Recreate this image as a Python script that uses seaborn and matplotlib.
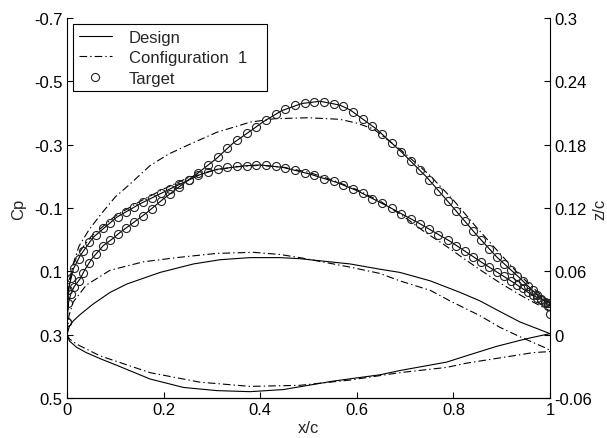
import seaborn as sns
import matplotlib.pyplot as plt

# Cp - Design (duas curvas: A = pico mais forte, B = pico mais fraco)
xa_design = [0.0, 0.003, 0.008, 0.015, 0.027, 0.037, 0.051, 0.075, 0.096, 0.11, 0.134, 0.165, 0.199,
             0.235, 0.275, 0.31, 0.344, 0.386, 0.406, 0.444, 0.486, 0.524, 0.565, 0.586, 0.641, 0.693,
             0.745, 0.793, 0.848, 0.89, 0.938, 0.972, 1.0]
cpa_design = [0.26, 0.20, 0.17, 0.148, 0.124, 0.095, 0.061, 0.019, -0.005, -0.023, -0.05, -0.085, -0.128,
              -0.17, -0.215, -0.257, -0.305, -0.35, -0.372, -0.407, -0.43, -0.437, -0.425, -0.41, -0.349, -0.276,
              -0.197, -0.113, -0.015, 0.055, 0.122, 0.172, 0.21]
xb_design = [0.0, 0.003, 0.013, 0.027, 0.054, 0.103, 0.151, 0.213, 0.275, 0.31, 0.365, 0.4, 0.448, 0.503,
             0.558, 0.6, 0.662, 0.731, 0.793, 0.862, 0.924, 0.965, 1.0]
cpb_design = [0.26, 0.156, 0.093, 0.051, -0.007, -0.071, -0.113, -0.16, -0.205, -0.222, -0.233, -0.236, -0.228,
              -0.207, -0.181, -0.155, -0.107, -0.05, 0.005, 0.075, 0.135, 0.177, 0.2]

# Cp - Configuration 1
xa_conf = [0.0, 0.004, 0.012, 0.025, 0.045, 0.07, 0.1, 0.13, 0.172, 0.21, 0.248, 0.31, 0.379, 0.43, 0.5,
           0.565, 0.6, 0.634, 0.69, 0.75, 0.8, 0.85, 0.9, 0.93, 0.96, 0.985, 1.0]
cpa_conf = [0.27, 0.15, 0.08, 0.02, -0.03, -0.08, -0.135, -0.175, -0.234, -0.27, -0.297, -0.339, -0.371, -0.382,
            -0.385, -0.38, -0.368, -0.35, -0.285, -0.205, -0.125, -0.035, 0.05, 0.1, 0.145, 0.18, 0.2]
xb_conf = [0.0, 0.004, 0.015, 0.03, 0.05, 0.1, 0.15, 0.2, 0.25, 0.3, 0.35, 0.4, 0.45, 0.5, 0.55, 0.6, 0.65,
           0.7, 0.74, 0.78, 0.82, 0.86, 0.9, 0.95, 1.0]
cpb_conf = [0.27, 0.13, 0.07, 0.03, -0.01, -0.075, -0.12, -0.16, -0.195, -0.218, -0.23, -0.235, -0.228, -0.213,
            -0.188, -0.158, -0.12, -0.07, -0.025, 0.015, 0.058, 0.1, 0.14, 0.185, 0.225]

# Cp - Target (circulos)
x_target = [0.0, 0.003, 0.008, 0.015, 0.024, 0.034, 0.046, 0.06, 0.075, 0.09, 0.106, 0.122, 0.139, 0.157,
            0.175, 0.194, 0.213, 0.232, 0.252, 0.272, 0.292, 0.312, 0.332, 0.352, 0.372, 0.392, 0.412, 0.432,
            0.452, 0.472, 0.492, 0.512, 0.532, 0.552, 0.572, 0.592, 0.612, 0.632, 0.652, 0.672, 0.692, 0.712,
            0.731, 0.75, 0.769, 0.788, 0.806, 0.824, 0.841, 0.858, 0.874, 0.89, 0.905, 0.919, 0.932, 0.944,
            0.955, 0.965, 0.974, 0.982, 0.989, 0.995, 1.0]
cpa_target = [0.26, 0.20, 0.17, 0.148, 0.13, 0.104, 0.073, 0.044, 0.019, 0.002, -0.018, -0.036, -0.055, -0.076,
              -0.098, -0.122, -0.145, -0.167, -0.189, -0.212, -0.235, -0.26, -0.288, -0.314, -0.336, -0.357,
              -0.378, -0.397, -0.413, -0.424, -0.432, -0.436, -0.436, -0.43, -0.421, -0.404, -0.382, -0.359,
              -0.334, -0.304, -0.277, -0.248, -0.219, -0.189, -0.154, -0.121, -0.09, -0.058, -0.027, 0.002,
              0.028, 0.055, 0.077, 0.097, 0.114, 0.13, 0.145, 0.16, 0.175, 0.188, 0.2, 0.21, 0.235]
cpb_target = [0.26, 0.16, 0.12, 0.09, 0.06, 0.035, 0.008, -0.016, -0.036, -0.054, -0.073, -0.088, -0.103, -0.118,
              -0.131, -0.146, -0.16, -0.175, -0.189, -0.203, -0.214, -0.222, -0.228, -0.232, -0.234, -0.236,
              -0.235, -0.232, -0.227, -0.22, -0.212, -0.203, -0.193, -0.184, -0.172, -0.16, -0.146, -0.13,
              -0.115, -0.099, -0.082, -0.066, -0.05, -0.033, -0.016, 0.001, 0.019, 0.037, 0.054, 0.071, 0.087,
              0.102, 0.116, 0.13, 0.142, 0.154, 0.165, 0.175, 0.183, 0.19, 0.196, 0.2, 0.2]

# Geometria z/c
xu_design = [0.0, 0.005, 0.013, 0.027, 0.054, 0.089, 0.124, 0.193, 0.262, 0.317, 0.379, 0.44, 0.482, 0.586,
             0.648, 0.689, 0.752, 0.814, 0.855, 0.896, 0.938, 1.0]
zu_design = [0.0, 0.008, 0.013, 0.019, 0.029, 0.04, 0.048, 0.059, 0.067, 0.071, 0.073, 0.073, 0.072, 0.067,
             0.062, 0.059, 0.051, 0.04, 0.032, 0.022, 0.012, 0.001]
xl_design = [0.0, 0.005, 0.02, 0.04, 0.07, 0.103, 0.172, 0.241, 0.31, 0.379, 0.448, 0.551, 0.648, 0.689,
             0.786, 0.827, 0.89, 0.95, 1.0]
zl_design = [0.0, -0.006, -0.012, -0.017, -0.023, -0.029, -0.042, -0.05, -0.053, -0.054, -0.052, -0.044,
             -0.038, -0.034, -0.026, -0.02, -0.011, -0.004, 0.001]
xu_conf = [0.0, 0.004, 0.013, 0.04, 0.089, 0.158, 0.227, 0.31, 0.386, 0.44, 0.482, 0.586, 0.648, 0.689, 0.752,
           0.793, 0.855, 0.896, 0.938, 0.993, 1.0]
zu_conf = [0.0, 0.018, 0.031, 0.047, 0.061, 0.069, 0.073, 0.077, 0.078, 0.076, 0.073, 0.064, 0.058, 0.051,
           0.042, 0.032, 0.018, 0.007, -0.002, -0.013, -0.015]
xl_conf = [0.0, 0.005, 0.02, 0.068, 0.172, 0.275, 0.379, 0.482, 0.586, 0.689, 0.786, 0.827, 0.924, 0.965, 1.0]
zl_conf = [0.0, -0.004, -0.009, -0.02, -0.036, -0.045, -0.049, -0.048, -0.043, -0.036, -0.031, -0.027, -0.02,
           -0.017, -0.016]

cp_ticks = [-0.7, -0.5, -0.3, -0.1, 0.1, 0.3, 0.5]
cp_ticklabels = ['-0.7', '-0.5', '-0.3', '-0.1', '0.1', '0.3', '0.5']
z_ticks = [0.3, 0.24, 0.18, 0.12, 0.06, 0.0, -0.06]
z_ticklabels = ['0.3', '0.24', '0.18', '0.12', '0.06', '0', '-0.06']
x_ticks = [0, 0.2, 0.4, 0.6, 0.8, 1.0]
x_ticklabels = ['0', '0.2', '0.4', '0.6', '0.8', '1']

sns.set_style('ticks')
plt.rcParams['font.family'] = ['Liberation Sans', 'DejaVu Sans']
plt.rcParams['font.size'] = 12
plt.rcParams['lines.scale_dashes'] = False

fig = plt.figure(figsize=(6.07, 4.39), dpi=100, facecolor='white')
ax = fig.add_axes([67 / 607, 40 / 439, 483 / 607, 380 / 439])
ax2 = ax.twinx()

lw = 0.8
dashdot = (0, (5.5, 2.2, 1, 2.2))
linha = dict(color='black', lw=lw, sort=False, estimator=None)

# Cp (eixo esquerdo)
sns.lineplot(x=xa_design, y=cpa_design, ax=ax, label='Design', **linha)
sns.lineplot(x=xb_design, y=cpb_design, ax=ax, **linha)
sns.lineplot(x=xa_conf, y=cpa_conf, ax=ax, linestyle=dashdot, label='Configuration  1   ', **linha)
sns.lineplot(x=xb_conf, y=cpb_conf, ax=ax, linestyle=dashdot, **linha)
marcador = dict(color='black', sort=False, estimator=None, marker='o', linestyle='none',
                mfc='none', mec='#222222', ms=5.8, mew=0.8)
sns.lineplot(x=x_target, y=cpa_target, ax=ax, label='Target', **marcador)
sns.lineplot(x=x_target, y=cpb_target, ax=ax, **marcador)

# z/c (eixo direito)
sns.lineplot(x=xu_design, y=zu_design, ax=ax2, **linha)
sns.lineplot(x=xl_design, y=zl_design, ax=ax2, **linha)
sns.lineplot(x=xu_conf, y=zu_conf, ax=ax2, linestyle=dashdot, **linha)
sns.lineplot(x=xl_conf, y=zl_conf, ax=ax2, linestyle=dashdot, **linha)

ax.set_xlim(0, 1)
ax.set_ylim(0.5, -0.7)
ax2.set_ylim(-0.06, 0.3)
ax.set_xticks(x_ticks)
ax.set_xticklabels(x_ticklabels)
ax.set_yticks(cp_ticks)
ax.set_yticklabels(cp_ticklabels)
ax2.set_yticks(z_ticks)
ax2.set_yticklabels(z_ticklabels)

for a in (ax, ax2):
    a.spines['top'].set_visible(False)
    for s in a.spines.values():
        s.set_linewidth(0.8)
        s.set_color('black')
    a.tick_params(direction='in', length=4, width=0.8, colors='black', labelsize=12, pad=3)
ax.spines['right'].set_visible(False)
ax2.spines['left'].set_visible(False)

ax.set_xlabel('x/c', labelpad=2)
ax.set_ylabel('Cp', labelpad=6)
ax2.set_ylabel('z/c', labelpad=0)

handles, labels = ax.get_legend_handles_labels()
ax.legend_ = None
leg = ax2.legend(handles, labels, loc='upper left', bbox_to_anchor=(0.012, 0.985), borderaxespad=0,
                 fancybox=False, framealpha=1, edgecolor='black', handlelength=2.0, handletextpad=1.0,
                 labelspacing=0.33, borderpad=0.35, fontsize=12)
leg.get_frame().set_linewidth(0.8)

plt.savefig('out.png', dpi=100)
plt.close()
